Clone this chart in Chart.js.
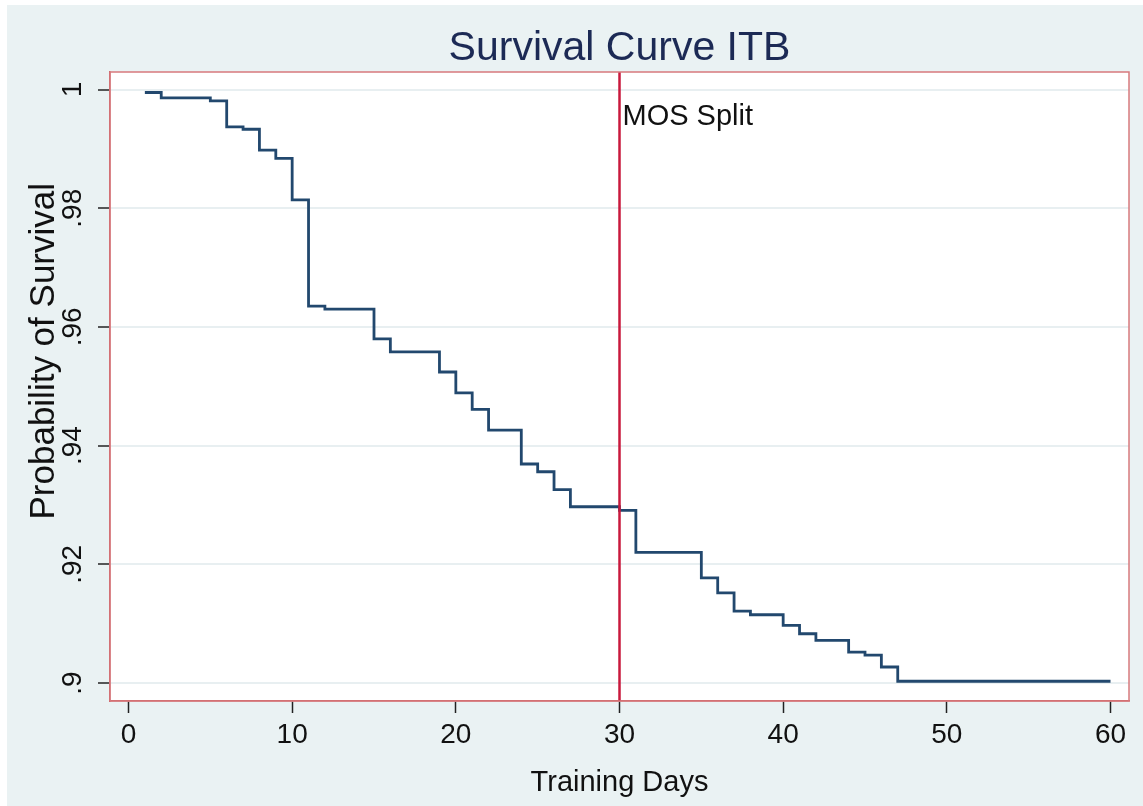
<!DOCTYPE html>
<html>
<head>
<meta charset="utf-8">
<title>Survival Curve ITB</title>
<script src="https://cdn.jsdelivr.net/npm/chart.js@4.4.1/dist/chart.umd.min.js"></script>
<style>
	html, body { margin: 0; padding: 0; background: #ffffff; }
	#wrap { width: 1143px; height: 806px; }
</style>
</head>
<body>
<div id="wrap"><canvas id="survival-chart" width="1143" height="806"></canvas></div>
<script>
// Kaplan-Meier estimate, value holds from each day until the next one
const days = [1, 2, 5, 6, 7, 8, 9, 10, 11, 12, 15, 16, 19, 20, 21, 22, 24, 25, 26, 27,
	30, 31, 35, 36, 37, 38, 40, 41, 42, 44, 45, 46, 47, 60];
const survival = [0.9995, 0.9986, 0.9981, 0.9937, 0.9933, 0.9898, 0.9884, 0.9814, 0.9635, 0.9630,
	0.9580, 0.9558, 0.9524, 0.9489, 0.9461, 0.9426, 0.9369, 0.9356, 0.9326, 0.9297,
	0.9291, 0.9220, 0.9177, 0.9152, 0.9121, 0.9115, 0.9097, 0.9083, 0.9072, 0.9052,
	0.9047, 0.9027, 0.9003, 0.9003];

const xTicks = [0, 10, 20, 30, 40, 50, 60];
const yTicks = [0.9, 0.92, 0.94, 0.96, 0.98, 1];
const yTickLabels = [".9", ".92", ".94", ".96", ".98", "1"];

const splitDay = 30;
const splitLabel = "MOS Split";
const splitLabelY = 0.9954;

const yTitle = "Probability of Survival";
const yTitleAt = 0.9559; // axis value the rotated title is centred on

const xMin = -1.13, xMax = 61.13;
const yMin = 0.89697, yMax = 1.00295;

const FONT = "'Liberation Sans', Arial, sans-serif";

const panelBackground = {
	id: "panelBackground",
	beforeDraw(chart) {
		const c = chart.ctx;
		c.save();
		c.fillStyle = "#ffffff";
		c.fillRect(0, 0, chart.width, chart.height);
		c.fillStyle = "#eaf2f3";
		c.fillRect(7, 5, chart.width - 7, chart.height - 5);
		const a = chart.chartArea;
		c.fillStyle = "#ffffff";
		c.fillRect(a.left, a.top, a.right - a.left, a.bottom - a.top);
		c.restore();
	},
	afterDraw(chart) {
		const c = chart.ctx;
		const a = chart.chartArea;
		const y = chart.scales.y;
		const x = chart.scales.x;
		c.save();
		// plot region outline
		c.strokeStyle = "#d77a7d";
		c.lineWidth = 1.5;
		c.strokeRect(a.left, a.top, a.right - a.left, a.bottom - a.top);

		// rotated y tick labels
		c.fillStyle = "#111111";
		c.font = "28px " + FONT;
		c.textAlign = "center";
		c.textBaseline = "middle";
		yTicks.forEach((v, i) => {
			c.save();
			c.translate(73, y.getPixelForValue(v));
			c.rotate(-Math.PI / 2);
			c.fillText(yTickLabels[i], 0, 0);
			c.restore();
		});

		// y axis title
		c.save();
		c.font = "35px " + FONT;
		c.translate(44, y.getPixelForValue(yTitleAt));
		c.rotate(-Math.PI / 2);
		c.fillText(yTitle, 0, 0);
		c.restore();

		// label for the split line
		c.textAlign = "left";
		c.font = "29px " + FONT;
		c.fillText(splitLabel, x.getPixelForValue(splitDay) + 3, y.getPixelForValue(splitLabelY));
		c.restore();
	},
};

const ctx = document.getElementById("survival-chart");

new Chart(ctx, {
	type: "line",
	data: {
		datasets: [
			{
				label: splitLabel,
				data: [{ x: splitDay, y: yMin }, { x: splitDay, y: yMax }],
				borderColor: "#c8193c",
				borderWidth: 2.5,
				pointRadius: 0,
				order: 0,
			},
			{
				label: "survival",
				data: days.map((d, i) => ({ x: d, y: survival[i] })),
				borderColor: "#22486e",
				borderWidth: 2.8,
				pointRadius: 0,
				stepped: true,
				order: 1,
			},
		],
	},
	options: {
		responsive: false,
		animation: false,
		devicePixelRatio: 1,
		layout: { padding: { left: 0, right: 14, top: 0, bottom: 0 } },
		plugins: {
			legend: { display: false },
			tooltip: { enabled: false },
			title: {
				display: true,
				text: "Survival Curve ITB",
				fullSize: false,
				color: "#1c2a55",
				font: { family: FONT, size: 41, weight: "normal", lineHeight: 1 },
				padding: { top: 28, bottom: 3 },
			},
		},
		scales: {
			x: {
				type: "linear",
				min: xMin,
				max: xMax,
				afterBuildTicks: (axis) => {
					axis.ticks = xTicks.map((v) => ({ value: v }));
				},
				afterFit: (axis) => {
					axis.height = 105;
				},
				grid: {
					drawOnChartArea: false,
					drawTicks: true,
					tickLength: 12,
					tickColor: "#222222",
					tickWidth: 1.5,
				},
				border: { display: true, color: "#c6585c", width: 1.5 },
				ticks: {
					color: "#111111",
					font: { family: FONT, size: 28 },
					padding: 5,
					maxRotation: 0,
					callback: (v) => String(v),
				},
				title: {
					display: true,
					text: "Training Days",
					color: "#111111",
					font: { family: FONT, size: 29 },
					padding: { top: 0, bottom: 6 },
				},
			},
			y: {
				type: "linear",
				min: yMin,
				max: yMax,
				afterBuildTicks: (axis) => {
					axis.ticks = yTicks.map((v) => ({ value: v }));
				},
				afterFit: (axis) => {
					axis.width = 110;
				},
				grid: {
					color: "#e8eff1",
					lineWidth: 2,
					drawTicks: true,
					tickLength: 12,
					tickColor: "#222222",
					tickWidth: 1.5,
				},
				border: { display: true, color: "#c6585c", width: 1.5 },
				ticks: {
					display: false,
				},
				title: { display: false },
			},
		},
	},
	plugins: [panelBackground],
});
</script>
</body>
</html>
